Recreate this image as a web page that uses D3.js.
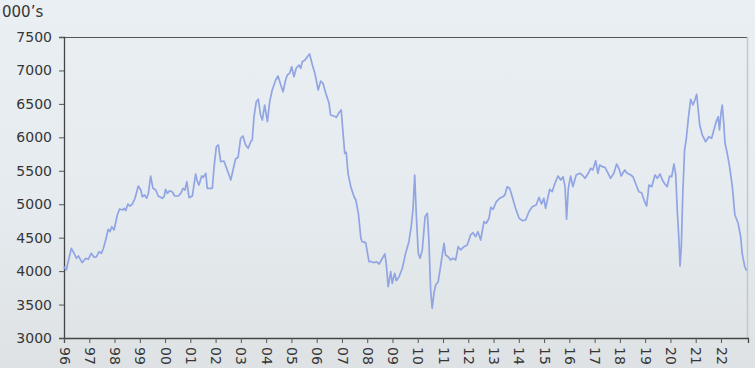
<!DOCTYPE html>
<html>
<head>
<meta charset="utf-8">
<script src="https://cdn.jsdelivr.net/npm/d3@7"></script>
<style>
  html, body { margin: 0; padding: 0; }
  body {
    width: 755px; height: 368px; overflow: hidden;
    background: linear-gradient(to bottom, #e9eff3 0%, #e5ebef 55%, #dee2e4 100%);
  }
  svg { display: block; }
</style>
</head>
<body>
<svg id="chart" width="755" height="368"></svg>
<script>
// decimal year of each reading
const years = [
  1996.00, 1996.09, 1996.29, 1996.40, 1996.49, 1996.57, 1996.72, 1996.86, 1996.96,
  1997.08, 1997.19, 1997.28, 1997.39, 1997.48, 1997.56, 1997.65, 1997.75, 1997.82, 1997.89, 1997.98,
  1998.11, 1998.20, 1998.31, 1998.39, 1998.44, 1998.53, 1998.61, 1998.70, 1998.81, 1998.94,
  1999.04, 1999.10, 1999.19, 1999.27, 1999.34, 1999.43, 1999.52, 1999.63, 1999.73, 1999.89, 1999.96,
  2000.02, 2000.09, 2000.18, 2000.29, 2000.38, 2000.52, 2000.62, 2000.71, 2000.79, 2000.86, 2000.95,
  2001.08, 2001.21, 2001.28, 2001.34, 2001.45, 2001.51, 2001.61, 2001.67, 2001.87, 2001.94,
  2002.03, 2002.11, 2002.20, 2002.33, 2002.46, 2002.60, 2002.69, 2002.79, 2002.89, 2002.99,
  2003.08, 2003.19, 2003.29, 2003.39, 2003.45, 2003.52, 2003.61, 2003.69, 2003.78, 2003.85, 2003.94,
  2004.05, 2004.14, 2004.24, 2004.38, 2004.47, 2004.58, 2004.67, 2004.77, 2004.84, 2004.93,
  2005.01, 2005.10, 2005.19, 2005.30, 2005.37, 2005.43, 2005.54, 2005.63, 2005.72, 2005.83, 2005.93,
  2006.06, 2006.16, 2006.25, 2006.36, 2006.49, 2006.55, 2006.68, 2006.78, 2006.88, 2006.97,
  2007.04, 2007.11, 2007.17, 2007.24, 2007.35, 2007.48, 2007.55, 2007.65, 2007.75, 2007.80, 2007.94,
  2008.07, 2008.18, 2008.27, 2008.36, 2008.47, 2008.60, 2008.70, 2008.75, 2008.83, 2008.93, 2008.99,
  2009.09, 2009.15, 2009.26, 2009.39, 2009.52, 2009.65, 2009.74, 2009.81, 2009.88, 2009.94,
  2010.02, 2010.09, 2010.18, 2010.29, 2010.38, 2010.44, 2010.51, 2010.57, 2010.64, 2010.71, 2010.81, 2010.91,
  2011.04, 2011.10, 2011.20, 2011.30, 2011.39, 2011.50, 2011.60, 2011.70, 2011.83, 2011.96,
  2012.09, 2012.19, 2012.29, 2012.38, 2012.49, 2012.62, 2012.71, 2012.82, 2012.89, 2012.98,
  2013.11, 2013.24, 2013.37, 2013.45, 2013.54, 2013.64, 2013.74, 2013.87,
  2014.01, 2014.14, 2014.27, 2014.40, 2014.53, 2014.69, 2014.80, 2014.90, 2014.99,
  2015.06, 2015.22, 2015.32, 2015.43, 2015.55, 2015.66, 2015.75, 2015.83, 2015.89, 2015.96,
  2016.05, 2016.14, 2016.27, 2016.41, 2016.51, 2016.62, 2016.75, 2016.84, 2016.93,
  2017.04, 2017.13, 2017.20, 2017.30, 2017.41, 2017.50, 2017.63, 2017.76, 2017.87, 2017.96,
  2018.05, 2018.19, 2018.29, 2018.43, 2018.52, 2018.62, 2018.75, 2018.86, 2018.98,
  2019.06, 2019.15, 2019.26, 2019.39, 2019.48, 2019.59, 2019.68, 2019.78, 2019.87, 2019.97,
  2020.05, 2020.14, 2020.21, 2020.27, 2020.34, 2020.38, 2020.43, 2020.49, 2020.56, 2020.63, 2020.71, 2020.80, 2020.89, 2020.97,
  2021.04, 2021.10, 2021.16, 2021.26, 2021.39, 2021.52, 2021.63, 2021.72, 2021.81, 2021.89, 2021.94,
  2022.00, 2022.05, 2022.11, 2022.16, 2022.25, 2022.34, 2022.45, 2022.55, 2022.68, 2022.78, 2022.84, 2022.94, 2023.02
];

// thousands
const values = [
  4066, 4017, 4341, 4266, 4192, 4226, 4126, 4192, 4177,
  4266, 4206, 4215, 4290, 4266, 4341, 4465, 4625, 4589, 4664, 4615,
  4839, 4929, 4914, 4939, 4903, 5003, 4973, 5003, 5088, 5272,
  5213, 5112, 5138, 5088, 5163, 5422, 5238, 5213, 5123, 5088, 5112,
  5223, 5163, 5202, 5183, 5123, 5123, 5163, 5238, 5213, 5337, 5097,
  5123, 5452, 5337, 5287, 5422, 5402, 5462, 5238, 5238, 5561,
  5860, 5885, 5636, 5646, 5512, 5362, 5512, 5676, 5701, 5986,
  6020, 5885, 5836, 5935, 5960, 6308, 6533, 6569, 6334, 6259, 6483,
  6234, 6533, 6708, 6857, 6917, 6782, 6682, 6857, 6932, 6957,
  7056, 6906, 7032, 7081, 7032, 7131, 7156, 7205, 7246, 7081, 6957,
  6708, 6842, 6808, 6658, 6509, 6334, 6319, 6299, 6368, 6409,
  6084, 5761, 5776, 5462, 5262, 5112, 5063, 4864, 4490, 4440, 4425,
  4141, 4141, 4126, 4141, 4106, 4192, 4256, 4117, 3767, 3991, 3818,
  3967, 3857, 3916, 4042, 4266, 4440, 4664, 4914, 5437, 4864,
  4266, 4192, 4316, 4813, 4864, 4465, 3718, 3444, 3668, 3792, 3842, 4091,
  4416, 4241, 4215, 4166, 4192, 4166, 4365, 4316, 4365, 4390,
  4540, 4574, 4514, 4589, 4465, 4739, 4715, 4790, 4954, 4924,
  5038, 5088, 5112, 5138, 5262, 5238, 5112, 4939,
  4790, 4754, 4764, 4888, 4963, 4988, 5103, 5003, 5088,
  4939, 5223, 5187, 5313, 5422, 5362, 5411, 5262, 4775, 5238,
  5422, 5262, 5437, 5462, 5437, 5388, 5462, 5537, 5512,
  5651, 5462, 5586, 5561, 5552, 5486, 5388, 5462, 5601, 5537,
  5422, 5512, 5462, 5437, 5411, 5313, 5187, 5172, 5038,
  4973, 5287, 5262, 5437, 5388, 5452, 5362, 5302, 5262, 5422,
  5411, 5601, 5437, 4914, 4440, 4076, 4365, 5163, 5811, 5986, 6285, 6569, 6483, 6558,
  6643, 6409, 6184, 6035, 5935, 6009, 5986, 6110, 6234, 6308, 6110,
  6359, 6483, 6210, 5911, 5761, 5561, 5262, 4839, 4715, 4514, 4266, 4066, 4006
];

const yTicks = [3000, 3500, 4000, 4500, 5000, 5500, 6000, 6500, 7000, 7500];
const xTicks = d3.range(1996, 2023);
const unitLabel = "000\u2019s";

const svg = d3.select("#chart");
const plotLeft = 64, plotRight = 748, plotTop = 37, plotBottom = 338;
const textColor = "#363636";

let x = d3.scaleLinear()
    .domain([1996, 2023.07])
    .range([plotLeft, plotRight]);

let y = d3.scaleLinear()
    .domain([3000, 7500])
    .range([plotBottom, plotTop]);

// frame: top line and light right border
svg.append("line")
    .attr("x1", plotLeft).attr("x2", plotRight)
    .attr("y1", plotTop + 0.5).attr("y2", plotTop + 0.5)
    .attr("stroke", "#555").attr("stroke-width", 1.2);
svg.append("line")
    .attr("x1", plotRight - 0.5).attr("x2", plotRight - 0.5)
    .attr("y1", plotTop).attr("y2", plotBottom)
    .attr("stroke", "#c4c8cb").attr("stroke-width", 1.5);

let yAxis = svg.append("g")
    .attr("transform", "translate(" + plotLeft + ",0)")
    .call(d3.axisLeft(y).tickValues(yTicks).tickSize(5).tickPadding(7).tickFormat(d3.format("d")));

let xAxis = svg.append("g")
    .attr("transform", "translate(0," + plotBottom + ")")
    .call(d3.axisBottom(x).tickValues(xTicks).tickSize(5)
        .tickFormat(d => String(d % 100).padStart(2, "0")));

[yAxis, xAxis].forEach(g => {
    g.select(".domain").attr("stroke", "#444").attr("stroke-width", 1.3);
    g.selectAll(".tick line").attr("stroke", "#555");
    g.selectAll("text")
        .attr("fill", textColor)
        .style("font-family", "'DejaVu Sans', sans-serif")
        .style("font-size", "14px");
});

xAxis.selectAll("text")
    .attr("transform", "rotate(90)")
    .attr("x", 9)
    .attr("y", 0)
    .attr("dy", "0.35em")
    .attr("text-anchor", "start");

svg.append("text")
    .attr("x", 2)
    .attr("y", 17)
    .attr("fill", textColor)
    .style("font-family", "'DejaVu Sans', sans-serif")
    .style("font-size", "15px")
    .text(unitLabel);

let line = d3.line()
    .x(d => x(d[0]))
    .y(d => y(d[1]));

svg.append("path")
    .datum(d3.zip(years, values))
    .attr("fill", "none")
    .attr("stroke", "#91a4e3")
    .attr("stroke-width", 1.7)
    .attr("stroke-linejoin", "round")
    .attr("d", line);
</script>
</body>
</html>
